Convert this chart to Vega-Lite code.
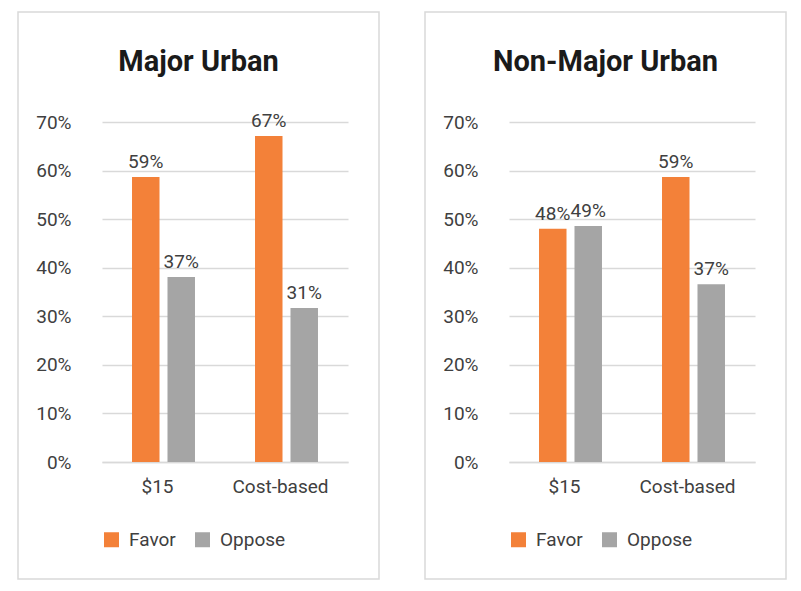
{
  "$schema": "https://vega.github.io/schema/vega-lite/v6.json",
  "padding": {"left": 17, "top": 11, "right": 10, "bottom": 10},
  "autosize": {"type": "pad"},
  "config": {
    "font": "Roboto",
    "view": {"stroke": "#d9d9d9", "strokeWidth": 1.5},
    "concat": {"spacing": 44},
    "axis": {"labelFont": "Roboto", "labelFontSize": 19, "labelColor": "#404040", "ticks": false, "title": null},
    "legend": {"labelFont": "Roboto", "labelFontSize": 19, "labelColor": "#404040"}
  },
  "datasets": {
    "d": [
      {"region": "Major Urban", "cat": "$15", "stance": "Favor", "value": 0.587, "label": "59%"},
      {"region": "Major Urban", "cat": "$15", "stance": "Oppose", "value": 0.381, "label": "37%"},
      {"region": "Major Urban", "cat": "Cost-based", "stance": "Favor", "value": 0.671, "label": "67%"},
      {"region": "Major Urban", "cat": "Cost-based", "stance": "Oppose", "value": 0.317, "label": "31%"},
      {"region": "Non-Major Urban", "cat": "$15", "stance": "Favor", "value": 0.48, "label": "48%"},
      {"region": "Non-Major Urban", "cat": "$15", "stance": "Oppose", "value": 0.486, "label": "49%"},
      {"region": "Non-Major Urban", "cat": "Cost-based", "stance": "Favor", "value": 0.587, "label": "59%"},
      {"region": "Non-Major Urban", "cat": "Cost-based", "stance": "Oppose", "value": 0.366, "label": "37%"}
    ]
  },
  "hconcat": [
    {
      "width": 361, "height": 567,
      "data": {"name": "d"},
      "transform": [{"filter": "datum.region === 'Major Urban'"}],
      "title": {"text": "Major Urban", "fontSize": 29, "fontWeight": "bold", "color": "#1a1a1a", "offset": -65, "anchor": "middle", "frame": "group"},
      "encoding": {
        "x": {"field": "cat", "type": "nominal", "sort": ["$15", "Cost-based"],
          "scale": {"range": [84, 330], "paddingInner": 0.488, "paddingOuter": 0.244},
          "axis": {"labelAngle": 0, "offset": -117, "labelPadding": 15, "labelOffset": -6, "domainColor": "#d9d9d9", "domainWidth": 1.5}},
        "xOffset": {"field": "stance", "type": "nominal", "sort": ["Favor", "Oppose"], "scale": {"paddingInner": 0.225, "paddingOuter": 0}},
        "y": {"field": "value", "type": "quantitative",
          "scale": {"domain": [0, 0.7], "range": [450, 110]},
          "axis": {"values": [0, 0.1, 0.2, 0.3, 0.4, 0.5, 0.6, 0.7], "format": ".0%", "offset": -60, "labelPadding": 7, "domain": false, "gridColor": "#d9d9d9", "gridWidth": 1.5}}
      },
      "layer": [
        {"mark": {"type": "bar"},
          "encoding": {"color": {"field": "stance", "type": "nominal", "sort": ["Favor", "Oppose"],
            "scale": {"domain": ["Favor", "Oppose"], "range": ["#F38139", "#A5A5A5"]},
            "legend": {"orient": "none", "legendX": 84, "legendY": 518, "direction": "horizontal", "title": null, "symbolType": "square", "symbolSize": 225, "symbolStrokeWidth": 0, "columnPadding": 17, "labelOffset": 8}}}},
        {"mark": {"type": "text", "baseline": "bottom", "dy": -5, "fontSize": 19, "color": "#404040"},
          "encoding": {"text": {"field": "label"}}}
      ]
    },
    {
      "width": 361, "height": 567,
      "data": {"name": "d"},
      "transform": [{"filter": "datum.region === 'Non-Major Urban'"}],
      "title": {"text": "Non-Major Urban", "fontSize": 29, "fontWeight": "bold", "color": "#1a1a1a", "offset": -65, "anchor": "middle", "frame": "group"},
      "encoding": {
        "x": {"field": "cat", "type": "nominal", "sort": ["$15", "Cost-based"],
          "scale": {"range": [84, 330], "paddingInner": 0.488, "paddingOuter": 0.244},
          "axis": {"labelAngle": 0, "offset": -117, "labelPadding": 15, "labelOffset": -6, "domainColor": "#d9d9d9", "domainWidth": 1.5}},
        "xOffset": {"field": "stance", "type": "nominal", "sort": ["Favor", "Oppose"], "scale": {"paddingInner": 0.225, "paddingOuter": 0}},
        "y": {"field": "value", "type": "quantitative",
          "scale": {"domain": [0, 0.7], "range": [450, 110]},
          "axis": {"values": [0, 0.1, 0.2, 0.3, 0.4, 0.5, 0.6, 0.7], "format": ".0%", "offset": -60, "labelPadding": 7, "domain": false, "gridColor": "#d9d9d9", "gridWidth": 1.5}}
      },
      "layer": [
        {"mark": {"type": "bar"},
          "encoding": {"color": {"field": "stance", "type": "nominal", "sort": ["Favor", "Oppose"],
            "scale": {"domain": ["Favor", "Oppose"], "range": ["#F38139", "#A5A5A5"]},
            "legend": {"orient": "none", "legendX": 84, "legendY": 518, "direction": "horizontal", "title": null, "symbolType": "square", "symbolSize": 225, "symbolStrokeWidth": 0, "columnPadding": 17, "labelOffset": 8}}}},
        {"mark": {"type": "text", "baseline": "bottom", "dy": -5, "fontSize": 19, "color": "#404040"},
          "encoding": {"text": {"field": "label"}}}
      ]
    }
  ],
  "resolve": {"scale": {"x": "independent", "y": "independent", "color": "independent", "xOffset": "independent"}, "legend": {"color": "independent"}}
}
